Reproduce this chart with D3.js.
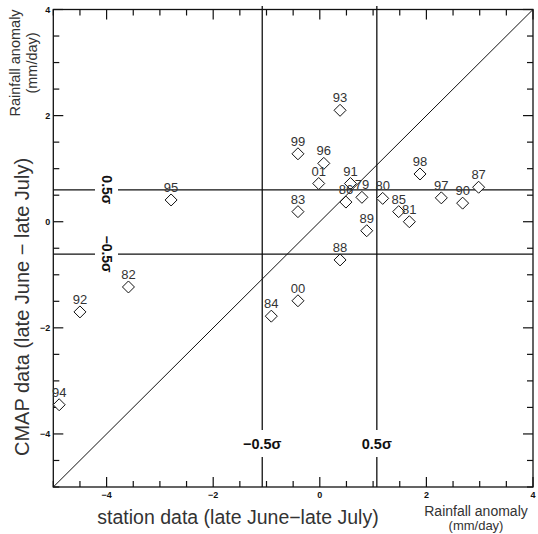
<!DOCTYPE html>
<html><head><meta charset="utf-8">
<script src="https://cdn.jsdelivr.net/npm/d3@7"></script>
<style>body{margin:0;background:#fff}svg{display:block}</style>
</head><body>
<script>
const years = ["79","80","81","82","83","84","85","86","87","88","89","90","91","92","93","94","95","96","97","98","99","00","01"];
const station = [0.79,1.18,1.68,-3.59,-0.41,-0.91,1.48,0.49,2.98,0.38,0.88,2.68,0.575,-4.5,0.38,-4.89,-2.79,0.075,2.28,1.88,-0.41,-0.41,-0.02];
const cmap = [0.46,0.44,0.00,-1.23,0.19,-1.78,0.19,0.37,0.65,-0.72,-0.17,0.35,0.72,-1.70,2.10,-3.45,0.41,1.10,0.45,0.90,1.28,-1.49,0.72];
const tickLabels = [-4,-2,0,2,4];
const sigmaX = [-1.08, 1.07];
const sigmaY = [0.60, -0.61];
const sigmaXLabels = ["\u22120.5\u03c3","0.5\u03c3"];
const sigmaYLabels = ["0.5\u03c3","\u22120.5\u03c3"];

const W=538,H=534;
const L=53.3,R=533,T=9.5,B=487;
const svg=d3.select("body").append("svg").attr("width",W).attr("height",H);
const x=d3.scaleLinear().domain([-5,4]).range([L,R]);
const y=d3.scaleLinear().domain([-5,4]).range([B,T]);
const ink="#111";
const FF="Liberation Sans, Arial, sans-serif";
const ticks=d3.range(-5,4.01,0.5);
const tlen=v=>(Math.abs(v%2)<1e-6?10:6);

svg.append("rect").attr("x",L).attr("y",T).attr("width",R-L).attr("height",B-T)
  .attr("fill","none").attr("stroke",ink).attr("stroke-width",1.3);

const tg=svg.append("g").attr("stroke",ink).attr("stroke-width",1.2);
ticks.forEach(v=>{
  const X=x(v),Y=y(v),l=tlen(v);
  tg.append("line").attr("x1",X).attr("x2",X).attr("y1",B).attr("y2",B-l);
  tg.append("line").attr("x1",X).attr("x2",X).attr("y1",T).attr("y2",T+l);
  tg.append("line").attr("y1",Y).attr("y2",Y).attr("x1",L).attr("x2",L+l);
  tg.append("line").attr("y1",Y).attr("y2",Y).attr("x1",R).attr("x2",R-l);
});

svg.append("g").selectAll("text").data(tickLabels).join("text")
  .attr("x",d=>x(d)).attr("y",B+11).attr("text-anchor","middle")
  .attr("font-family",FF).attr("font-size",9).attr("font-weight","bold")
  .attr("fill",ink).text(d=>d<0?"\u2212"+(-d):d);
svg.append("g").selectAll("text").data(tickLabels).join("text")
  .attr("x",L-3).attr("y",d=>y(d)+3).attr("text-anchor","end")
  .attr("font-family",FF).attr("font-size",9).attr("font-weight","bold")
  .attr("fill",ink).text(d=>d<0?"\u2212"+(-d):d);

svg.append("line").attr("x1",x(-5)).attr("y1",y(-5)).attr("x2",x(4)).attr("y2",y(4))
  .attr("stroke",ink).attr("stroke-width",1);

const gapY1=430,gapY2=457;
sigmaX.forEach((v,i)=>{
  svg.append("line").attr("x1",x(v)).attr("x2",x(v)).attr("y1",6).attr("y2",gapY1).attr("stroke",ink).attr("stroke-width",1.3);
  svg.append("line").attr("x1",x(v)).attr("x2",x(v)).attr("y1",gapY2).attr("y2",B).attr("stroke",ink).attr("stroke-width",1.3);
  svg.append("text").attr("x",x(v)).attr("y",449).attr("text-anchor","middle")
    .attr("font-family",FF).attr("font-size",14.5).attr("font-weight","bold")
    .attr("fill",ink).text(sigmaXLabels[i]);
});
const gapX1=95,gapX2=118;
sigmaY.forEach((v,i)=>{
  svg.append("line").attr("y1",y(v)).attr("y2",y(v)).attr("x1",L).attr("x2",gapX1).attr("stroke",ink).attr("stroke-width",1.3);
  svg.append("line").attr("y1",y(v)).attr("y2",y(v)).attr("x1",gapX2).attr("x2",R).attr("stroke",ink).attr("stroke-width",1.3);
  svg.append("text").attr("transform",`translate(${(gapX1+gapX2)/2-5},${y(v)}) rotate(90)`)
    .attr("text-anchor","middle")
    .attr("font-family",FF).attr("font-size",14).attr("font-weight","bold")
    .attr("fill",ink).text(sigmaYLabels[i]);
});

const pts=years.map((yr,i)=>({yr,sx:station[i],cy:cmap[i]}));
const s=6;
svg.append("g").selectAll("path").data(pts).join("path")
  .attr("d",d=>{const X=x(d.sx),Y=y(d.cy);return `M${X},${Y-s}L${X+s},${Y}L${X},${Y+s}L${X-s},${Y}Z`;})
  .attr("fill","#fff").attr("stroke",ink).attr("stroke-width",1);
svg.append("g").selectAll("text").data(pts).join("text")
  .attr("x",d=>x(d.sx)).attr("y",d=>y(d.cy)-8).attr("text-anchor","middle")
  .attr("font-family",FF).attr("font-size",13)
  .attr("fill","#333").text(d=>d.yr);

svg.append("text").attr("x",238).attr("y",524).attr("text-anchor","middle")
  .attr("font-family",FF).attr("font-size",19.5).attr("fill","#333")
  .text("station data (late June\u2212late July)");
svg.append("text").attr("transform","translate(29,307) rotate(-90)").attr("text-anchor","middle")
  .attr("font-family",FF).attr("font-size",20).attr("fill","#333")
  .text("CMAP data (late June \u2212 late July)");
svg.append("text").attr("x",476).attr("y",516).attr("text-anchor","middle")
  .attr("font-family",FF).attr("font-size",14).attr("fill","#333")
  .text("Rainfall anomaly");
svg.append("text").attr("x",476).attr("y",529.5).attr("text-anchor","middle")
  .attr("font-family",FF).attr("font-size",13).attr("fill","#333")
  .text("(mm/day)");
svg.append("text").attr("transform","translate(20,63) rotate(-90)").attr("text-anchor","middle")
  .attr("font-family",FF).attr("font-size",14.5).attr("fill","#333")
  .text("Rainfall anomaly");
svg.append("text").attr("transform","translate(37,63) rotate(-90)").attr("text-anchor","middle")
  .attr("font-family",FF).attr("font-size",14.5).attr("fill","#333")
  .text("(mm/day)");
</script>
</body></html>
